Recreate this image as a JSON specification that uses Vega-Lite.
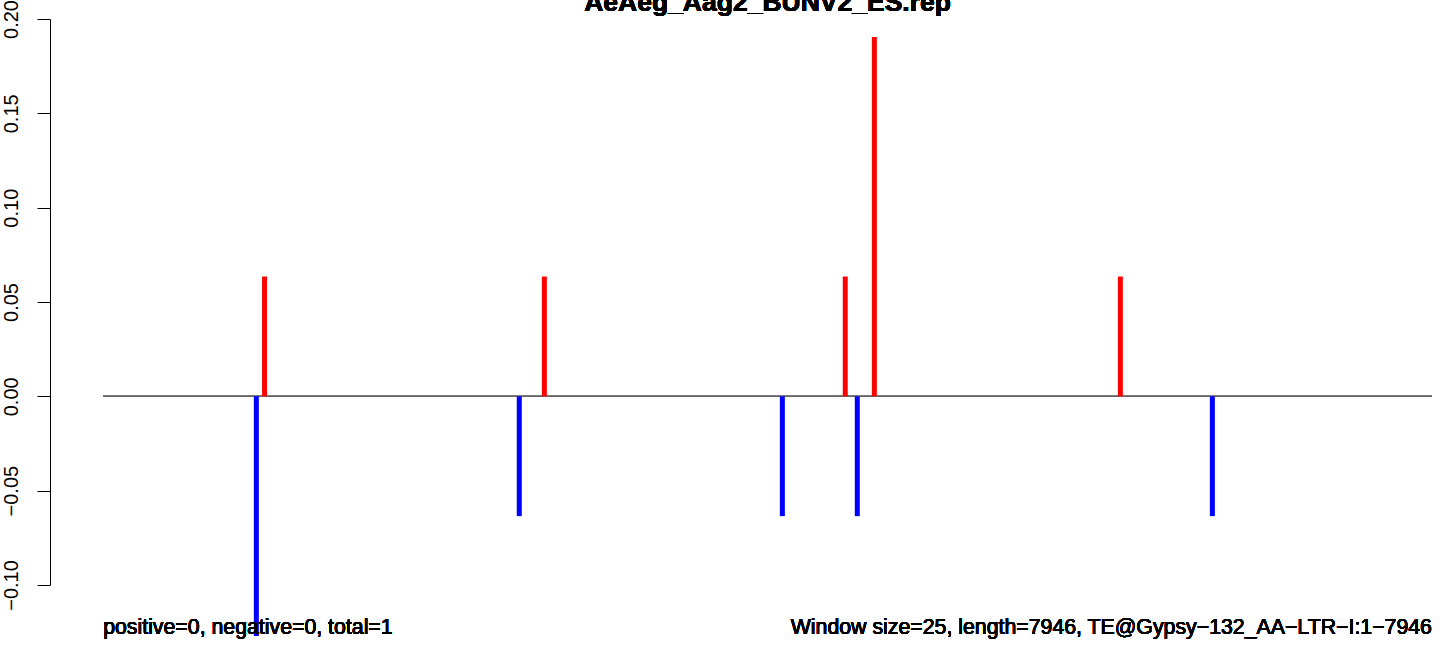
{
  "$schema": "https://vega.github.io/schema/vega-lite/v6.json",
  "autosize": "none",
  "padding": {"left": 50, "top": 19, "right": 0, "bottom": 71},
  "width": 1394,
  "height": 566,
  "background": "white",
  "config": {"view": {"stroke": null}, "font": "Liberation Sans"},
  "data": {
    "values": [
      {"pos": 966, "val": 0.0635, "strand": "sense"},
      {"pos": 2639, "val": 0.0635, "strand": "sense"},
      {"pos": 4438, "val": 0.0635, "strand": "sense"},
      {"pos": 4612, "val": 0.1905, "strand": "sense"},
      {"pos": 6083, "val": 0.0635, "strand": "sense"},
      {"pos": 917, "val": -0.127, "strand": "antisense"},
      {"pos": 2489, "val": -0.0635, "strand": "antisense"},
      {"pos": 4062, "val": -0.0635, "strand": "antisense"},
      {"pos": 4510, "val": -0.0635, "strand": "antisense"},
      {"pos": 6633, "val": -0.0635, "strand": "antisense"}
    ]
  },
  "layer": [
    {
      "mark": {"type": "rule", "color": "#666666", "strokeWidth": 1},
      "encoding": {
        "x": {"datum": 1, "type": "quantitative", "scale": {"domain": [-316.8, 8018], "nice": false, "zero": false}, "axis": null},
        "x2": {"datum": 7946},
        "y": {"datum": 0, "type": "quantitative"}
      }
    },
    {
      "mark": {"type": "rule", "strokeWidth": 5, "strokeCap": "butt", "clip": false},
      "encoding": {
        "x": {"field": "pos", "type": "quantitative", "scale": {"domain": [-316.8, 8018], "nice": false, "zero": false}, "axis": null},
        "y": {
          "field": "val",
          "type": "quantitative",
          "scale": {"domain": [-0.1, 0.2], "nice": false, "zero": false},
          "axis": {
            "orient": "left",
            "title": null,
            "grid": false,
            "values": [-0.1, -0.05, 0, 0.05, 0.1, 0.15, 0.2],
            "format": ".2f",
            "domainColor": "black",
            "domainWidth": 1,
            "tickColor": "black",
            "tickWidth": 1,
            "tickSize": 13,
            "labelAngle": 270,
            "labelAlign": "center",
            "labelBaseline": "bottom",
            "labelPadding": 16,
            "labelFont": "Liberation Sans",
            "labelFontSize": 20,
            "labelColor": "black",
            "labelOverlap": false,
            "labelBound": false,
            "labelFlush": false
          }
        },
        "y2": {"datum": 0},
        "color": {
          "field": "strand",
          "type": "nominal",
          "scale": {"domain": ["sense", "antisense"], "range": ["#FF0000", "#0000FF"]},
          "legend": null
        }
      }
    },
    {
      "mark": {"type": "text", "align": "center", "baseline": "alphabetic", "font": "Liberation Sans", "fontSize": 26.5, "fontWeight": "bold", "color": "black", "clip": false},
      "encoding": {
        "x": {"datum": 3973.5, "type": "quantitative"},
        "y": {"datum": 0.2042, "type": "quantitative"},
        "text": {"value": "AeAeg_Aag2_BUNV2_ES.rep"}
      }
    },
    {
      "mark": {"type": "text", "align": "left", "baseline": "alphabetic", "font": "Liberation Sans", "fontSize": 21.3, "fontWeight": "normal", "color": "black"},
      "encoding": {
        "x": {"datum": 1, "type": "quantitative"},
        "y": {"datum": -0.1262, "type": "quantitative"},
        "text": {"value": "positive=0, negative=0, total=1"}
      }
    },
    {
      "mark": {"type": "text", "align": "right", "baseline": "alphabetic", "font": "Liberation Sans", "fontSize": 21.3, "fontWeight": "normal", "color": "black"},
      "encoding": {
        "x": {"datum": 7946, "type": "quantitative"},
        "y": {"datum": -0.1262, "type": "quantitative"},
        "text": {"value": "Window size=25, length=7946, TE@Gypsy−132_AA−LTR−I:1−7946"}
      }
    }
  ]
}
